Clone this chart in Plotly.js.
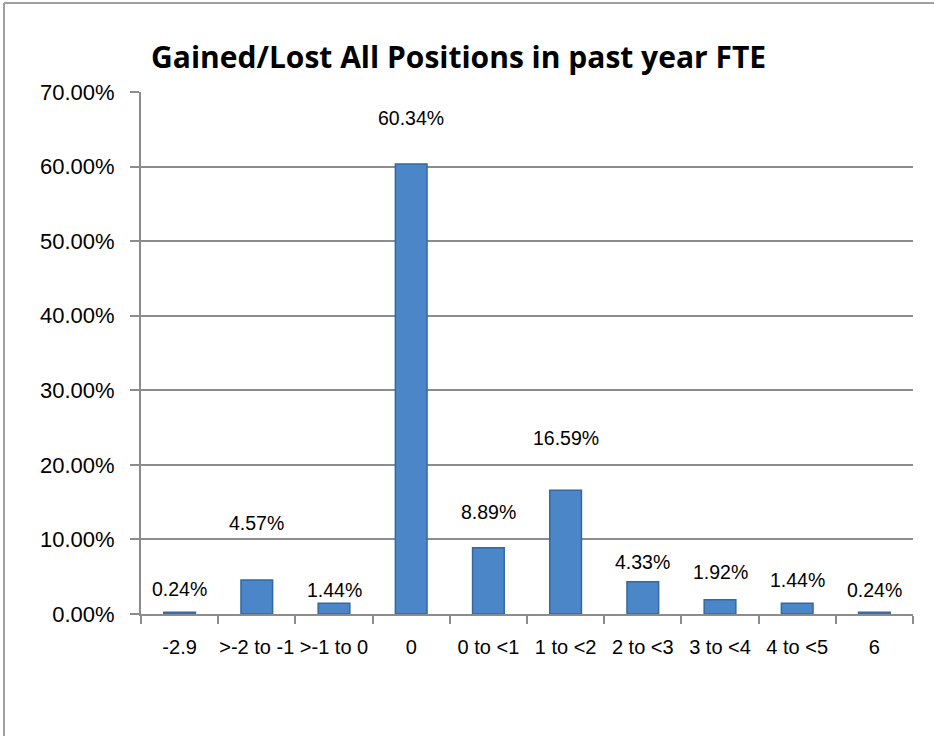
<!DOCTYPE html>
<html>
<head>
<meta charset="utf-8">
<script src="https://cdn.plot.ly/plotly-3.0.1.min.js"></script>
<style>
  html, body { margin: 0; padding: 0; background: #fff; }
  #chart { width: 934px; height: 736px; }
</style>
</head>
<body>
<div id="chart"></div>
<script>
// ---- data ----
const categories = ["-2.9", ">-2 to -1", ">-1 to 0", "0", "0 to <1", "1 to <2", "2 to <3", "3 to <4", "4 to <5", "6"];
const percentValues = [0.24, 4.57, 1.44, 60.34, 8.89, 16.59, 4.33, 1.92, 1.44, 0.24];
const chartTitle = "Gained/Lost All Positions in past year FTE";

// ---- label styling (pixel offsets of the value labels above each bar) ----
const labelOffsetPx = [23, 57, 13, 46, 36, 52, 20, 28, 23, 22];

const annotations = categories.map((c, i) => ({
  x: i, y: percentValues[i], xref: 'x', yref: 'y',
  text: percentValues[i].toFixed(2) + '%',
  showarrow: false, yanchor: 'middle', yshift: labelOffsetPx[i],
  font: { family: 'Liberation Sans, Arial, sans-serif', size: 19.5, color: '#000' }
}));

const trace = {
  type: 'bar',
  x: categories,
  y: percentValues,
  width: 0.41,
  marker: { color: '#4a86c8', line: { color: '#35689f', width: 1.5 } },
  hoverinfo: 'x+y'
};

const ML = 141, MR = 21, MT = 92, MB = 122;
const PW = 934 - ML - MR, PH = 736 - MT - MB;

const layout = {
  width: 934, height: 736,
  margin: { l: ML, r: MR, t: MT, b: MB },
  paper_bgcolor: '#fff', plot_bgcolor: '#fff',
  title: {
    text: '<b>' + chartTitle + '</b>',
    x: 0.491, xanchor: 'center', y: 0.922, yanchor: 'middle',
    font: { family: 'Open Sans, Liberation Sans, sans-serif', size: 30, color: '#000' }
  },
  showlegend: false,
  xaxis: {
    type: 'category',
    range: [-0.5, 9.5], autorange: false,
    tickangle: 0,
    showline: true, linecolor: '#8c8c8c', linewidth: 2,
    ticks: 'outside', tickson: 'boundaries', ticklen: 8, tickcolor: '#8c8c8c', tickwidth: 2,
    showgrid: false, zeroline: false,
    tickfont: { family: 'Liberation Sans, Arial, sans-serif', size: 20, color: '#000' },
    ticklabelstandoff: 14,
    fixedrange: true
  },
  yaxis: {
    range: [0, 70], autorange: false, dtick: 10, tick0: 0,
    tickformat: '.2f', ticksuffix: '%',
    showline: true, linecolor: '#8c8c8c', linewidth: 2,
    ticks: 'outside', ticklen: 9, tickcolor: '#8c8c8c', tickwidth: 2,
    showgrid: true, gridcolor: '#8c8c8c', gridwidth: 2,
    zeroline: false,
    tickfont: { family: 'Liberation Sans, Arial, sans-serif', size: 22, color: '#000' },
    ticklabelstandoff: 11,
    fixedrange: true
  },
  annotations: annotations,
  shapes: [
    { type: 'line', xref: 'paper', yref: 'paper',
      x0: (4 - ML) / PW, x1: (934 - ML) / PW + 0.01, y0: (736 - MB - 3) / PH, y1: (736 - MB - 3) / PH,
      line: { color: '#a0a0a0', width: 2 } },
    { type: 'line', xref: 'paper', yref: 'paper',
      x0: (4 - ML) / PW, x1: (4 - ML) / PW, y0: (736 - MB - 3) / PH, y1: -MB / PH - 0.01,
      line: { color: '#a0a0a0', width: 2 } }
  ]
};

Plotly.newPlot('chart', [trace], layout, { displayModeBar: false, staticPlot: true });
</script>
</body>
</html>
